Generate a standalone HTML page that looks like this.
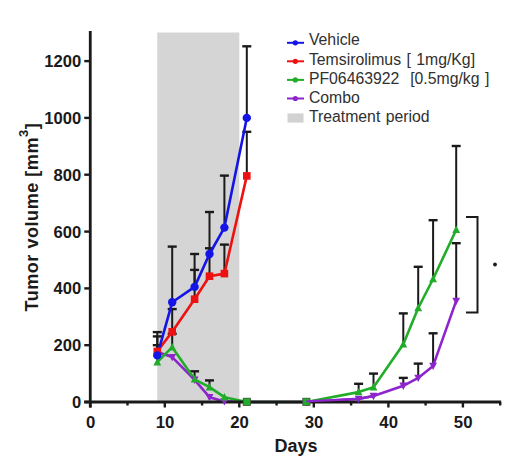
<!DOCTYPE html><html><head><meta charset="utf-8"><style>
html,body{margin:0;padding:0;background:#fff;}
body{width:520px;height:473px;overflow:hidden;position:relative;font-family:"Liberation Sans",sans-serif;}
svg{position:absolute;left:0;top:0;}
</style></head><body>
<svg width="520" height="473" viewBox="0 0 520 473">
<rect x="157.3" y="32.5" width="82.0" height="369.5" fill="#d5d5d5"/>
<line x1="157.3" y1="355.4" x2="157.3" y2="332.1" stroke="#1a1a1a" stroke-width="2"/>
<line x1="152.8" y1="332.1" x2="161.8" y2="332.1" stroke="#1a1a1a" stroke-width="2.4"/>
<line x1="172.2" y1="302.3" x2="172.2" y2="246.6" stroke="#1a1a1a" stroke-width="2"/>
<line x1="167.7" y1="246.6" x2="176.7" y2="246.6" stroke="#1a1a1a" stroke-width="2.4"/>
<line x1="194.6" y1="286.9" x2="194.6" y2="254.0" stroke="#1a1a1a" stroke-width="2"/>
<line x1="190.1" y1="254.0" x2="199.1" y2="254.0" stroke="#1a1a1a" stroke-width="2.4"/>
<line x1="209.5" y1="254.0" x2="209.5" y2="212.0" stroke="#1a1a1a" stroke-width="2"/>
<line x1="205.0" y1="212.0" x2="214.0" y2="212.0" stroke="#1a1a1a" stroke-width="2.4"/>
<line x1="224.4" y1="227.6" x2="224.4" y2="175.6" stroke="#1a1a1a" stroke-width="2"/>
<line x1="219.9" y1="175.6" x2="228.9" y2="175.6" stroke="#1a1a1a" stroke-width="2.4"/>
<line x1="246.8" y1="117.9" x2="246.8" y2="46.3" stroke="#1a1a1a" stroke-width="2"/>
<line x1="242.3" y1="46.3" x2="251.3" y2="46.3" stroke="#1a1a1a" stroke-width="2.4"/>
<line x1="157.3" y1="351.4" x2="157.3" y2="336.4" stroke="#1a1a1a" stroke-width="2"/>
<line x1="152.8" y1="336.4" x2="161.8" y2="336.4" stroke="#1a1a1a" stroke-width="2.4"/>
<line x1="172.2" y1="331.8" x2="172.2" y2="309.1" stroke="#1a1a1a" stroke-width="2"/>
<line x1="167.7" y1="309.1" x2="176.7" y2="309.1" stroke="#1a1a1a" stroke-width="2.4"/>
<line x1="194.6" y1="299.2" x2="194.6" y2="269.9" stroke="#1a1a1a" stroke-width="2"/>
<line x1="190.1" y1="269.9" x2="199.1" y2="269.9" stroke="#1a1a1a" stroke-width="2.4"/>
<line x1="209.5" y1="276.2" x2="209.5" y2="248.3" stroke="#1a1a1a" stroke-width="2"/>
<line x1="205.0" y1="248.3" x2="214.0" y2="248.3" stroke="#1a1a1a" stroke-width="2.4"/>
<line x1="224.4" y1="273.6" x2="224.4" y2="244.6" stroke="#1a1a1a" stroke-width="2"/>
<line x1="219.9" y1="244.6" x2="228.9" y2="244.6" stroke="#1a1a1a" stroke-width="2.4"/>
<line x1="246.8" y1="175.9" x2="246.8" y2="131.8" stroke="#1a1a1a" stroke-width="2"/>
<line x1="242.3" y1="131.8" x2="251.3" y2="131.8" stroke="#1a1a1a" stroke-width="2.4"/>
<line x1="157.3" y1="362.2" x2="157.3" y2="345.2" stroke="#1a1a1a" stroke-width="2"/>
<line x1="152.8" y1="345.2" x2="161.8" y2="345.2" stroke="#1a1a1a" stroke-width="2.4"/>
<line x1="172.2" y1="347.2" x2="172.2" y2="333.8" stroke="#1a1a1a" stroke-width="2"/>
<line x1="167.7" y1="333.8" x2="176.7" y2="333.8" stroke="#1a1a1a" stroke-width="2.4"/>
<line x1="194.6" y1="379.3" x2="194.6" y2="371.3" stroke="#1a1a1a" stroke-width="2"/>
<line x1="190.1" y1="371.3" x2="199.1" y2="371.3" stroke="#1a1a1a" stroke-width="2.4"/>
<line x1="209.5" y1="387.2" x2="209.5" y2="380.4" stroke="#1a1a1a" stroke-width="2"/>
<line x1="205.0" y1="380.4" x2="214.0" y2="380.4" stroke="#1a1a1a" stroke-width="2.4"/>
<line x1="358.6" y1="392.1" x2="358.6" y2="383.8" stroke="#1a1a1a" stroke-width="2"/>
<line x1="354.1" y1="383.8" x2="363.1" y2="383.8" stroke="#1a1a1a" stroke-width="2.4"/>
<line x1="373.5" y1="387.2" x2="373.5" y2="373.6" stroke="#1a1a1a" stroke-width="2"/>
<line x1="369.0" y1="373.6" x2="378.0" y2="373.6" stroke="#1a1a1a" stroke-width="2.4"/>
<line x1="403.3" y1="344.3" x2="403.3" y2="313.4" stroke="#1a1a1a" stroke-width="2"/>
<line x1="398.8" y1="313.4" x2="407.8" y2="313.4" stroke="#1a1a1a" stroke-width="2.4"/>
<line x1="418.2" y1="308.0" x2="418.2" y2="266.8" stroke="#1a1a1a" stroke-width="2"/>
<line x1="413.7" y1="266.8" x2="422.7" y2="266.8" stroke="#1a1a1a" stroke-width="2.4"/>
<line x1="433.1" y1="279.0" x2="433.1" y2="220.2" stroke="#1a1a1a" stroke-width="2"/>
<line x1="428.6" y1="220.2" x2="437.6" y2="220.2" stroke="#1a1a1a" stroke-width="2.4"/>
<line x1="456.2" y1="229.8" x2="456.2" y2="146.0" stroke="#1a1a1a" stroke-width="2"/>
<line x1="451.7" y1="146.0" x2="460.7" y2="146.0" stroke="#1a1a1a" stroke-width="2.4"/>
<line x1="403.3" y1="385.8" x2="403.3" y2="377.9" stroke="#1a1a1a" stroke-width="2"/>
<line x1="398.8" y1="377.9" x2="407.8" y2="377.9" stroke="#1a1a1a" stroke-width="2.4"/>
<line x1="418.2" y1="377.9" x2="418.2" y2="363.6" stroke="#1a1a1a" stroke-width="2"/>
<line x1="413.7" y1="363.6" x2="422.7" y2="363.6" stroke="#1a1a1a" stroke-width="2.4"/>
<line x1="433.1" y1="365.9" x2="433.1" y2="333.3" stroke="#1a1a1a" stroke-width="2"/>
<line x1="428.6" y1="333.3" x2="437.6" y2="333.3" stroke="#1a1a1a" stroke-width="2.4"/>
<line x1="456.2" y1="300.9" x2="456.2" y2="243.2" stroke="#1a1a1a" stroke-width="2"/>
<line x1="451.7" y1="243.2" x2="460.7" y2="243.2" stroke="#1a1a1a" stroke-width="2.4"/>
<polyline points="157.3,352.0 172.2,357.1 194.6,379.8 209.5,397.2 224.4,401.4 246.8,402.0 306.4,402.0 358.6,398.9 373.5,396.0 403.3,385.8 418.2,377.9 433.1,365.9 456.2,300.9" fill="none" stroke="#8d24cc" stroke-width="2.6" stroke-linejoin="round"/>
<polyline points="157.3,362.2 172.2,347.2 194.6,379.3 209.5,387.2 224.4,397.2 246.8,402.0 306.4,402.0 358.6,392.1 373.5,387.2 403.3,344.3 418.2,308.0 433.1,279.0 456.2,229.8" fill="none" stroke="#22ac2a" stroke-width="2.6" stroke-linejoin="round"/>
<polyline points="157.3,351.4 172.2,331.8 194.6,299.2 209.5,276.2 224.4,273.6 246.8,175.9" fill="none" stroke="#ee1111" stroke-width="2.6" stroke-linejoin="round"/>
<polyline points="157.3,355.4 172.2,302.3 194.6,286.9 209.5,254.0 224.4,227.6 246.8,117.9" fill="none" stroke="#1414e6" stroke-width="2.6" stroke-linejoin="round"/>
<line x1="90.27" y1="31" x2="90.27" y2="407.5" stroke="#1a1a1a" stroke-width="2.8"/>
<line x1="84.27" y1="402.0" x2="501.15749999999997" y2="402.0" stroke="#1a1a1a" stroke-width="2.8"/>
<line x1="84.27" y1="402.0" x2="90.27" y2="402.0" stroke="#1a1a1a" stroke-width="2.4"/>
<text x="81.27" y="408.0" text-anchor="end" font-family="Liberation Sans" font-weight="bold" font-size="16.6" fill="#1a1a1a">0</text>
<line x1="84.27" y1="345.2" x2="90.27" y2="345.2" stroke="#1a1a1a" stroke-width="2.4"/>
<text x="81.27" y="351.2" text-anchor="end" font-family="Liberation Sans" font-weight="bold" font-size="16.6" fill="#1a1a1a">200</text>
<line x1="84.27" y1="288.4" x2="90.27" y2="288.4" stroke="#1a1a1a" stroke-width="2.4"/>
<text x="81.27" y="294.4" text-anchor="end" font-family="Liberation Sans" font-weight="bold" font-size="16.6" fill="#1a1a1a">400</text>
<line x1="84.27" y1="231.6" x2="90.27" y2="231.6" stroke="#1a1a1a" stroke-width="2.4"/>
<text x="81.27" y="237.6" text-anchor="end" font-family="Liberation Sans" font-weight="bold" font-size="16.6" fill="#1a1a1a">600</text>
<line x1="84.27" y1="174.7" x2="90.27" y2="174.7" stroke="#1a1a1a" stroke-width="2.4"/>
<text x="81.27" y="180.7" text-anchor="end" font-family="Liberation Sans" font-weight="bold" font-size="16.6" fill="#1a1a1a">800</text>
<line x1="84.27" y1="117.9" x2="90.27" y2="117.9" stroke="#1a1a1a" stroke-width="2.4"/>
<text x="81.27" y="123.9" text-anchor="end" font-family="Liberation Sans" font-weight="bold" font-size="16.6" fill="#1a1a1a">1000</text>
<line x1="84.27" y1="61.1" x2="90.27" y2="61.1" stroke="#1a1a1a" stroke-width="2.4"/>
<text x="81.27" y="67.1" text-anchor="end" font-family="Liberation Sans" font-weight="bold" font-size="16.6" fill="#1a1a1a">1200</text>
<line x1="90.3" y1="402.0" x2="90.3" y2="407.5" stroke="#1a1a1a" stroke-width="2.4"/>
<text x="90.6" y="427.8" text-anchor="middle" font-family="Liberation Sans" font-weight="bold" font-size="16.8" fill="#1a1a1a">0</text>
<line x1="127.5" y1="402.0" x2="127.5" y2="405.5" stroke="#1a1a1a" stroke-width="2.4"/>
<line x1="164.8" y1="402.0" x2="164.8" y2="407.5" stroke="#1a1a1a" stroke-width="2.4"/>
<text x="165.1" y="427.8" text-anchor="middle" font-family="Liberation Sans" font-weight="bold" font-size="16.8" fill="#1a1a1a">10</text>
<line x1="202.1" y1="402.0" x2="202.1" y2="405.5" stroke="#1a1a1a" stroke-width="2.4"/>
<line x1="239.3" y1="402.0" x2="239.3" y2="407.5" stroke="#1a1a1a" stroke-width="2.4"/>
<text x="239.6" y="427.8" text-anchor="middle" font-family="Liberation Sans" font-weight="bold" font-size="16.8" fill="#1a1a1a">20</text>
<line x1="276.6" y1="402.0" x2="276.6" y2="405.5" stroke="#1a1a1a" stroke-width="2.4"/>
<line x1="313.8" y1="402.0" x2="313.8" y2="407.5" stroke="#1a1a1a" stroke-width="2.4"/>
<text x="314.1" y="427.8" text-anchor="middle" font-family="Liberation Sans" font-weight="bold" font-size="16.8" fill="#1a1a1a">30</text>
<line x1="351.1" y1="402.0" x2="351.1" y2="405.5" stroke="#1a1a1a" stroke-width="2.4"/>
<line x1="388.4" y1="402.0" x2="388.4" y2="407.5" stroke="#1a1a1a" stroke-width="2.4"/>
<text x="388.7" y="427.8" text-anchor="middle" font-family="Liberation Sans" font-weight="bold" font-size="16.8" fill="#1a1a1a">40</text>
<line x1="425.6" y1="402.0" x2="425.6" y2="405.5" stroke="#1a1a1a" stroke-width="2.4"/>
<line x1="462.9" y1="402.0" x2="462.9" y2="407.5" stroke="#1a1a1a" stroke-width="2.4"/>
<text x="463.2" y="427.8" text-anchor="middle" font-family="Liberation Sans" font-weight="bold" font-size="16.8" fill="#1a1a1a">50</text>
<line x1="500.2" y1="402.0" x2="500.2" y2="405.5" stroke="#1a1a1a" stroke-width="2.4"/>
<polygon points="157.3,356.2 161.2,348.8 153.4,348.8" fill="#8d24cc"/>
<polygon points="172.2,361.3 176.1,353.9 168.3,353.9" fill="#8d24cc"/>
<polygon points="194.6,384.0 198.5,376.6 190.7,376.6" fill="#8d24cc"/>
<polygon points="209.5,401.4 213.4,394.0 205.6,394.0" fill="#8d24cc"/>
<polygon points="224.4,405.6 228.3,398.2 220.5,398.2" fill="#8d24cc"/>
<polygon points="246.8,406.2 250.7,398.8 242.9,398.8" fill="#8d24cc"/>
<polygon points="306.4,406.2 310.3,398.8 302.5,398.8" fill="#8d24cc"/>
<polygon points="358.6,403.1 362.5,395.7 354.7,395.7" fill="#8d24cc"/>
<polygon points="373.5,400.2 377.4,392.8 369.6,392.8" fill="#8d24cc"/>
<polygon points="403.3,390.0 407.2,382.6 399.4,382.6" fill="#8d24cc"/>
<polygon points="418.2,382.1 422.1,374.7 414.3,374.7" fill="#8d24cc"/>
<polygon points="433.1,370.1 437.0,362.7 429.2,362.7" fill="#8d24cc"/>
<polygon points="456.2,305.1 460.1,297.7 452.3,297.7" fill="#8d24cc"/>
<polygon points="157.3,358.0 161.2,365.4 153.4,365.4" fill="#22ac2a"/>
<polygon points="172.2,343.0 176.1,350.4 168.3,350.4" fill="#22ac2a"/>
<polygon points="194.6,375.1 198.5,382.5 190.7,382.5" fill="#22ac2a"/>
<polygon points="209.5,383.0 213.4,390.4 205.6,390.4" fill="#22ac2a"/>
<polygon points="224.4,393.0 228.3,400.4 220.5,400.4" fill="#22ac2a"/>
<polygon points="246.8,397.8 250.7,405.2 242.9,405.2" fill="#22ac2a"/>
<polygon points="306.4,397.8 310.3,405.2 302.5,405.2" fill="#22ac2a"/>
<polygon points="358.6,387.9 362.5,395.3 354.7,395.3" fill="#22ac2a"/>
<polygon points="373.5,383.0 377.4,390.4 369.6,390.4" fill="#22ac2a"/>
<polygon points="403.3,340.1 407.2,347.5 399.4,347.5" fill="#22ac2a"/>
<polygon points="418.2,303.8 422.1,311.2 414.3,311.2" fill="#22ac2a"/>
<polygon points="433.1,274.8 437.0,282.2 429.2,282.2" fill="#22ac2a"/>
<polygon points="456.2,225.6 460.1,233.0 452.3,233.0" fill="#22ac2a"/>
<rect x="153.5" y="347.6" width="7.6" height="7.6" fill="#ee1111"/>
<rect x="168.4" y="328.0" width="7.6" height="7.6" fill="#ee1111"/>
<rect x="190.8" y="295.4" width="7.6" height="7.6" fill="#ee1111"/>
<rect x="205.7" y="272.4" width="7.6" height="7.6" fill="#ee1111"/>
<rect x="220.6" y="269.8" width="7.6" height="7.6" fill="#ee1111"/>
<rect x="243.0" y="172.1" width="7.6" height="7.6" fill="#ee1111"/>
<circle cx="157.3" cy="355.4" r="4.2" fill="#1414e6"/>
<circle cx="172.2" cy="302.3" r="4.2" fill="#1414e6"/>
<circle cx="194.6" cy="286.9" r="4.2" fill="#1414e6"/>
<circle cx="209.5" cy="254.0" r="4.2" fill="#1414e6"/>
<circle cx="224.4" cy="227.6" r="4.2" fill="#1414e6"/>
<circle cx="246.8" cy="117.9" r="4.2" fill="#1414e6"/>
<rect x="243.2" y="398.2" width="7.2" height="7.2" fill="#22ac2a" stroke="#3a5a3a" stroke-width="0.8"/>
<rect x="302.8" y="398.2" width="7.2" height="7.2" fill="#22ac2a" stroke="#3a5a3a" stroke-width="0.8"/>
<polyline points="306.4,401.4 358.6,398.9 373.5,396.0" fill="none" stroke="#8d24cc" stroke-width="2.4"/>
<text x="296" y="452" text-anchor="middle" font-family="Liberation Sans" font-weight="bold" font-size="18" fill="#1a1a1a">Days</text>
<text transform="translate(38,311.5) rotate(-90)" x="0" y="0" font-family="Liberation Sans" font-weight="bold" font-size="18" letter-spacing="0.55" fill="#1a1a1a">Tumor volume [mm<tspan dy="-10" font-size="13">3</tspan><tspan dy="10">]</tspan></text>
<path d="M466,217 H477.5 V312.5 H466" fill="none" stroke="#1a1a1a" stroke-width="2"/>
<circle cx="495" cy="264.5" r="1.9" fill="#1a1a1a"/>
<line x1="287" y1="42.8" x2="304" y2="42.8" stroke="#1414e6" stroke-width="2"/>
<circle cx="295.3" cy="42.8" r="2.6" fill="#1414e6"/>
<text x="308.9" y="45.4" font-family="Liberation Sans" font-size="15.8" word-spacing="1" fill="#303030" xml:space="preserve">Vehicle</text>
<line x1="287" y1="61.3" x2="304" y2="61.3" stroke="#ee1111" stroke-width="2"/>
<circle cx="295.3" cy="61.3" r="2.6" fill="#ee1111"/>
<text x="308.9" y="64.5" font-family="Liberation Sans" font-size="15.8" word-spacing="1" fill="#303030" xml:space="preserve">Temsirolimus [ 1mg/Kg]</text>
<line x1="287" y1="79.9" x2="304" y2="79.9" stroke="#22ac2a" stroke-width="2"/>
<circle cx="295.3" cy="79.9" r="2.6" fill="#22ac2a"/>
<text x="308.9" y="83.7" font-family="Liberation Sans" font-size="15.8" word-spacing="1" fill="#303030" xml:space="preserve">PF06463922  [0.5mg/kg ]</text>
<line x1="287" y1="98.5" x2="304" y2="98.5" stroke="#8d24cc" stroke-width="2"/>
<circle cx="295.3" cy="98.5" r="2.6" fill="#8d24cc"/>
<text x="308.9" y="102.8" font-family="Liberation Sans" font-size="15.8" word-spacing="1" fill="#303030" xml:space="preserve">Combo</text>
<rect x="287.5" y="113.4" width="16" height="9.2" fill="#d2d2d2"/>
<text x="308.9" y="122.0" font-family="Liberation Sans" font-size="15.8" word-spacing="1" fill="#303030">Treatment period</text>
</svg></body></html>
